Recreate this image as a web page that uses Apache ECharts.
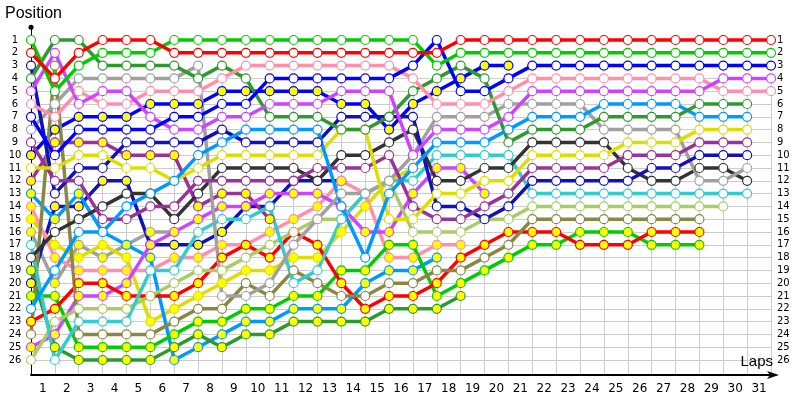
<!DOCTYPE html>
<html><head><meta charset="utf-8">
<script src="https://cdn.jsdelivr.net/npm/echarts@6/dist/echarts.min.js"></script>
<style>html,body{margin:0;padding:0;background:#fff}#c{width:800px;height:400px}</style>
</head><body><div id="c"></div>
<script>
// Lap numbers shown under the axis
const lapLabels = Array.from({length: 31}, (_, i) => String(i + 1));

// Positions per driver, index 0 = grid, index k = after lap k
const G1  = [1,5,3,2,2,2,1,1,1,1,1,1,1,1,1,1,1,3,2,2,2,2,2,2,2,2,2,2,2,2,2,2];
const R1  = [2,4,2,1,1,1,2,2,2,2,2,2,2,2,2,2,2,2,1,1,1,1,1,1,1,1,1,1,1,1,1,1];
const B1  = [7,10,8,8,8,8,7,7,6,6,4,4,4,4,4,4,3,1,5,5,4,3,3,3,3,3,3,3,3,3,3,3];
const V1  = [5,2,6,5,5,7,8,8,7,7,6,6,6,5,5,5,10,8,8,8,7,5,5,5,5,5,5,5,5,4,4,4];
const P1  = [6,7,5,6,6,5,5,5,4,3,3,3,3,3,3,3,4,6,6,6,5,4,4,4,4,4,4,4,4,5,5,5];
const DG1 = [4,1,1,3,3,3,3,4,3,4,7,7,7,8,8,7,5,4,3,4,9,8,8,8,7,7,7,7,6,6,6];
const SB1 = [22,19,16,16,14,13,12,10,9,8,8,8,8,14,18,13,11,9,9,9,8,7,7,7,6,6,6,6,7,7,7];
const Y1  = [11,11,10,10,11,11,12,11,10,10,10,10,10,8,8,15,15,13,13,12,12,10,10,10,10,9,9,9,8,8,8];
const M1  = [9,12,12,15,15,14,14,12,12,12,12,12,11,11,11,10,14,15,15,14,13,11,11,11,11,10,10,10,9,9,9];
const N1  = [3,13,11,11,9,9,9,9,8,9,9,9,9,7,7,7,7,14,14,15,14,12,12,12,12,12,11,11,10,10,10];
const GR1 = [8,6,4,4,4,4,4,3,21,21,20,17,15,13,13,12,10,7,7,7,6,6,6,6,8,8,8,8,12,12,11];
const K1  = [18,16,15,14,13,13,15,13,11,11,11,11,12,10,10,9,8,12,12,11,11,9,9,9,9,11,12,12,11,11,12];
const C1  = [17,26,23,23,23,19,19,16,15,15,14,20,19,15,13,12,12,10,10,10,10,13,13,13,13,13,13,13,13,13,13];
const LG1 = [26,23,22,22,22,21,20,19,19,18,17,16,15,15,13,12,16,16,16,15,15,14,14,14,14,14,14,14,14,14];
const O1  = [24,3,24,24,24,24,23,22,22,20,21,19,20,21,21,20,20,19,19,18,17,15,15,15,15,15,15,15,15];
const R2  = [23,22,20,20,21,21,21,20,18,17,18,16,17,20,22,21,21,20,18,17,16,16,16,17,17,17,16,16,16];
const G2  = [21,21,25,25,25,25,24,23,23,22,22,21,21,19,19,17,17,21,20,19,18,17,17,16,16,16,17,17,17];
const BY  = [10,8,7,7,7,6,6,6,5,5,5,5,5,6,6,8,6,5,4,3,3];
const V2  = [25,24,21,21,20,17,16,15,14,14,13,13,13,14,16,16,13,11,11,13];
const P2  = [14,18,19,19,19,19,18,18,17,17,16,15,14,12,13,18,18,17,17];
const DG2 = [19,25,26,26,26,26,25,24,25,24,24,23,23,23,23,22,22,22,21];
const SB2 = [13,15,13,16,17,18,26,25,24,23,23,22,22,22,20,19,19,18];
const Y2  = [15,17,18,17,18,23,22,21,20,19,19,18,18,16,14,12,11];
const M2  = [12,9,9,9,10,10,10,14,13,13,15];
const N2  = [20,14,14,12,12,17,17,17,16,14,14,12,12,12];
const GR2 = [16,20,17,18,17,16,16];

const drivers = [
  [GR2,'#a0a0a0',true],[N2,'#1111bb',true],[M2,'#993399',true],[Y2,'#dddd00',true],[SB2,'#0099ff',true],
  [DG2,'#2e9a2e',true],[P2,'#ff8faa',true],[V2,'#cc44ff',true],[BY,'#0000ff',true],
  [G2,'#00cc00',true],[R2,'#ff0000',true],[O1,'#888844',false],[LG1,'#aacc66',false],
  [C1,'#33cccc',false],[K1,'#333333',false],[GR1,'#a0a0a0',false],[N1,'#1111bb',false],
  [M1,'#993399',false],[Y1,'#dddd00',false],[SB1,'#0099ff',false],[DG1,'#2e9a2e',false],
  [P1,'#ff8faa',false],[V1,'#cc44ff',false],[B1,'#0000ff',false],[G1,'#00cc00',false],[R1,'#ff0000',false]
];

const series = drivers.map(([arr,col,yel]) => ({
  type: 'line', xAxisIndex: 0, yAxisIndex: 0, z: 3,
  data: arr.map((p,i)=>[i,p]),
  symbol: 'circle', symbolSize: 9, showSymbol: true,
  lineStyle: {color: col, width: 3.5},
  itemStyle: {color: yel ? '#ffff00' : '#ffffff', borderColor: col, borderWidth: 1.2},
  emphasis: {disabled: true}, animation: false
}));

// top of plot = position 0, bottom axis slightly below position 27
const PX = 12.8, TOP = 40 - PX, BOTTOM = 375;
const YMAX = (BOTTOM - TOP) / PX;
const hGrid = Array(23).fill('#cccccc').concat(['transparent','transparent']);
const lbl = v => (Number.isInteger(v) && v >= 1 && v <= 26) ? String(v) : '';

const chart = echarts.init(document.getElementById('c'), null, {renderer: 'canvas'});
chart.setOption({
  animation: false,
  backgroundColor: '#ffffff',
  title: [
    {text: 'Position', left: 5, top: 6, padding: 0, textStyle: {fontFamily: 'Liberation Sans', fontSize: 16, fontWeight: 'normal', color: '#000'}},
    {text: 'Laps', right: 27, top: 354, padding: 0, textStyle: {fontFamily: 'Liberation Sans', fontSize: 15, fontWeight: 'normal', color: '#000'}}
  ],
  grid: [
    {left: 31, right: 29, top: TOP, bottom: 400 - BOTTOM},
    {left: 31, right: 29, top: 40 + 3 * PX, bottom: 400 - BOTTOM}
  ],
  xAxis: [
    {type: 'value', gridIndex: 0, min: 0, max: 31, interval: 1,
     axisLine: {show: true, onZero: false, lineStyle: {color: '#000', width: 2}, symbol: ['none','arrow'], symbolSize: [6, 12], symbolOffset: [0, 8]},
     axisTick: {show: false}, axisLabel: {show: false}, splitLine: {show: false}},
    {type: 'category', gridIndex: 0, data: lapLabels, boundaryGap: true, position: 'bottom',
     axisLine: {show: false}, axisTick: {show: false},
     axisLabel: {fontFamily: 'DejaVu Sans', fontSize: 12, color: '#000', margin: 8, interval: 0},
     splitLine: {show: false}},
    {type: 'value', gridIndex: 1, min: 0, max: 31, interval: 1,
     axisLine: {show: false}, axisTick: {show: false}, axisLabel: {show: false},
     splitLine: {show: true, lineStyle: {color: '#cccccc', width: 1}}}
  ],
  yAxis: [
    {type: 'value', gridIndex: 0, inverse: true, min: 0, max: YMAX,
     axisLine: {show: true, onZero: false, lineStyle: {color: '#000', width: 1}, symbol: ['none','circle'], symbolSize: [5,5]},
     axisTick: {show: false}, interval: 1,
     axisLabel: {fontFamily: 'DejaVu Sans', fontSize: 10, color: '#000', margin: 16, align: 'center', formatter: lbl},
     splitLine: {show: false}},
    {type: 'value', gridIndex: 0, inverse: true, min: 0, max: YMAX, interval: 1, position: 'right',
     axisLine: {show: false}, axisTick: {show: false}, splitLine: {show: false},
     axisLabel: {fontFamily: 'DejaVu Sans', fontSize: 10, color: '#000', margin: 6, align: 'left', formatter: lbl}},
    {type: 'value', gridIndex: 1, inverse: true, min: 4, max: YMAX, interval: 1,
     axisLine: {show: false}, axisTick: {show: false}, axisLabel: {show: false},
     splitLine: {show: true, lineStyle: {color: hGrid, width: 1}}}
  ],
  series: series
});
</script>
</body></html>
